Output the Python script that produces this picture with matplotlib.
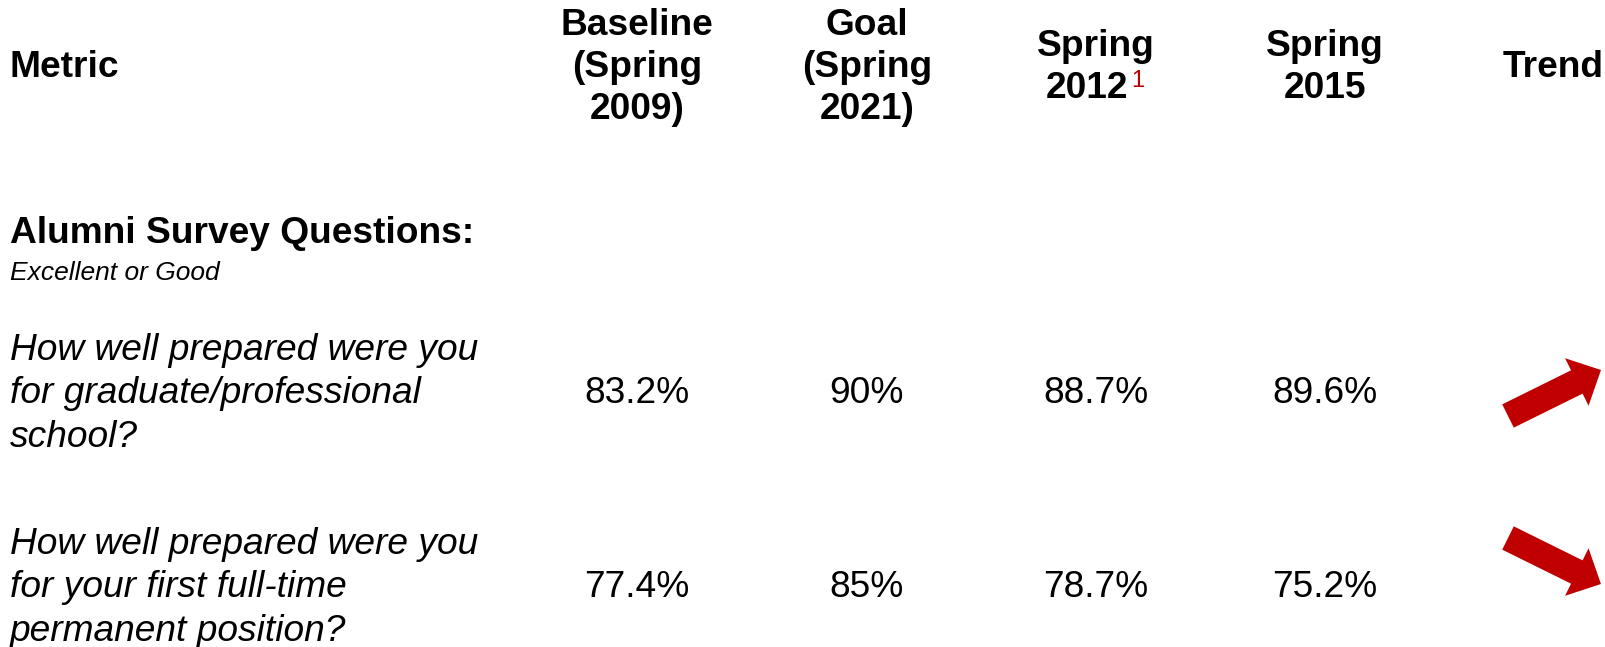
import matplotlib
matplotlib.use('Agg')
import matplotlib.pyplot as plt
from matplotlib.patches import FancyArrow

plt.rcParams['font.family'] = ['Liberation Sans', 'DejaVu Sans']

RED = '#C00000'

headers = [['Baseline', '(Spring', '2009)'], ['Goal', '(Spring', '2021)'],
           ['Spring', '2012'], ['Spring', '2015']]
questions = [
    ['How well prepared were you', 'for graduate/professional', 'school?'],
    ['How well prepared were you', 'for your first full-time', 'permanent position?'],
]
baseline_2009 = [83.2, 77.4]
goal_2021 = [90, 85]
spring_2012 = [88.7, 78.7]
spring_2015 = [89.6, 75.2]

# layout in pixels
W, H = 1606, 647
col_x = [637, 867, 1096, 1325]
row_y = [390, 584]
arrow_mid = [393, 561]
header_y = 63.5
BIG = 26.7
SMALL = 19


def cap(size):
    # half the cap height in pixels, so text can be placed by its visual middle
    return 0.716 * size * 100 / 72 / 2


def line(ax, x, y, s, size=BIG, **kw):
    return ax.text(x, y + cap(size), s, fontsize=size, va='baseline', **kw)


fig = plt.figure(figsize=(W / 100, H / 100), dpi=100)
ax = fig.add_axes([0, 0, 1, 1])
ax.set_xlim(0, W)
ax.set_ylim(H, 0)
ax.axis('off')

line(ax, 10, header_y, 'Metric', fontweight='bold', ha='left')
for x, h in zip(col_x, headers):
    top = header_y - 42 * (len(h) - 1) / 2
    for k, s in enumerate(h):
        if s == '2012':
            # footnote mark after "2012", line centred with the mark
            line(ax, x + 32, top + 42 * k, s, fontweight='bold', ha='right')
            ax.text(x + 35, top + 42 * k + cap(BIG) - 11, '1', fontsize=17,
                    color=RED, va='baseline', ha='left')
        else:
            line(ax, x, top + 42 * k, s, fontweight='bold', ha='center')
line(ax, 1503, header_y, 'Trend', fontweight='bold', ha='left')

line(ax, 10, 230, 'Alumni Survey Questions:', fontweight='bold', ha='left')
line(ax, 10, 271, 'Excellent or Good', size=SMALL, style='italic', ha='left')

values = list(zip(baseline_2009, goal_2021, spring_2012, spring_2015))
for i, (q, vals) in enumerate(zip(questions, values)):
    for k, s in enumerate(q):
        line(ax, 10, row_y[i] + 43.5 * (k - 1), s, style='italic', ha='left')
    for x, v in zip(col_x, vals):
        line(ax, x, row_y[i], f'{v:g}%', ha='center')
    # trend arrow: compares latest two surveys
    dy = -46 if spring_2015[i] > spring_2012[i] else 46
    ax.add_patch(FancyArrow(1508, arrow_mid[i] - dy / 2, 93, dy, width=26,
                            head_width=53, head_length=27,
                            length_includes_head=True, color=RED, lw=0))

fig.savefig('out.png', dpi=100)
